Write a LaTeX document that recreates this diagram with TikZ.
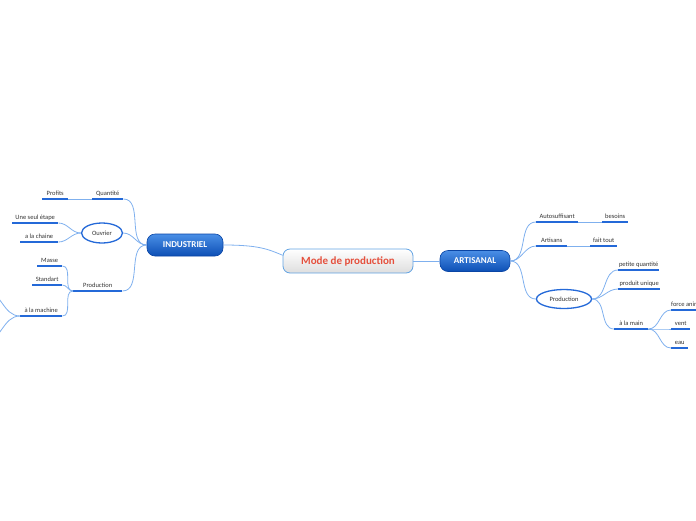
\documentclass[tikz,border=0pt]{standalone}
\usepackage{fontspec}
\setmainfont{Carlito}
\usetikzlibrary{shapes.geometric}
\definecolor{linkblue}{HTML}{7FB0EE}
\definecolor{lineblue}{HTML}{2469D8}
\definecolor{topblue}{HTML}{4A8FE6}
\definecolor{botblue}{HTML}{0D4FB5}
\definecolor{edgeblue}{HTML}{0A45A5}
\definecolor{rimblue}{HTML}{62A3E3}
\definecolor{titlered}{HTML}{E5503D}

\begin{document}
\begin{tikzpicture}[x=1pt,y=-1pt,
  link/.style={linkblue, line width=.8pt},
  uline/.style={lineblue, line width=1.6pt},
  leaf/.style={anchor=south west, inner xsep=0pt, inner ysep=2.2pt, text depth=1.5pt, text=black!80, font=\fontsize{6.5}{7}\selectfont},
  topic/.style={rounded corners=8pt, draw=edgeblue, line width=.6pt, top color=topblue, bottom color=botblue, text=white, font=\bfseries\fontsize{9}{10}\selectfont},
  bubble/.style={ellipse, draw=lineblue, fill=white, line width=1.3pt, inner sep=0pt, text=black!80, font=\fontsize{6.5}{7}\selectfont}]
\useasboundingbox (0,0) rectangle (696,520);

% centre
\node[rounded corners=7pt, draw=rimblue, line width=.8pt, top color=white, bottom color=black!13, text=titlered, font=\bfseries\fontsize{11}{12}\selectfont, minimum width=130pt, minimum height=24pt] (mode) at (348,261) {Mode de production};
\node[topic, minimum width=76pt, minimum height=22pt] (indus) at (185,245) {INDUSTRIEL};
\node[topic, minimum width=70pt, minimum height=21pt] (artis) at (475,261) {ARTISANAL};

% left side
\node[leaf, minimum width=31pt] (quant) at (92,199) {Quantité};
\node[leaf, minimum width=26pt] (profits) at (42,199) {Profits};
\node[bubble, minimum width=41pt, minimum height=20pt] (ouvrier) at (102,233) {Ouvrier};
\node[leaf, minimum width=46pt] (etape) at (12,223) {Une seul étape};
\node[leaf, minimum width=38pt] (chaine) at (20,242) {a la chaine};
\node[leaf, minimum width=49pt] (prodI) at (73,291) {Production};
\node[leaf, minimum width=25pt] (masse) at (37,266) {Masse};
\node[leaf, minimum width=30pt] (standart) at (32,285) {Standart};
\node[leaf, minimum width=42pt] (machine) at (20,316) {à la machine};
\coordinate (outA) at (-16,290);
\coordinate (outB) at (-16,342);

% right side
\node[leaf, minimum width=42pt] (autos) at (536,222) {Autosuffisant};
\node[leaf, minimum width=26pt] (besoins) at (602,222) {besoins};
\node[leaf, minimum width=31pt] (artisans) at (536,246) {Artisans};
\node[leaf, minimum width=27pt] (faittout) at (590,246) {fait tout};
\node[bubble, minimum width=55pt, minimum height=19pt] (prodA) at (564,299) {Production};
\node[leaf, minimum width=41pt] (petite) at (618,270) {petite quantité};
\node[leaf, minimum width=42pt] (unique) at (618,289) {produit unique};
\node[leaf, minimum width=34pt] (main) at (614,329) {à la main};
\node[leaf, minimum width=30pt] (force) at (671,310) {force animale};
\node[leaf, minimum width=19pt] (vent) at (671,329) {vent};
\node[leaf, minimum width=17pt] (eau) at (671,348) {eau};

\foreach \n in {quant,profits,etape,chaine,prodI,masse,standart,machine,autos,besoins,artisans,faittout,petite,unique,main,force,vent,eau}
  \draw[uline] (\n.south west) -- (\n.south east);

% links
\draw[link] (indus.east) .. controls (258,245) and (268,249) .. (mode.175);
\draw[link] (mode.east) -- (artis.west);
\foreach \c in {quant.south east,ouvrier.east,prodI.south east}
  \draw[link] (indus.west) to[out=180,in=0] (\c);
\draw[link] (quant.south west) -- (profits.south east);
\foreach \c in {etape.south east,chaine.south east}
  \draw[link] (ouvrier.west) to[out=180,in=0] (\c);
\foreach \c in {masse.south east,standart.south east,machine.south east}
  \draw[link] (prodI.south west) to[out=180,in=0] (\c);
\foreach \c in {outA,outB}
  \draw[link] (machine.south west) to[out=180,in=0] (\c);
\foreach \c in {autos.south west,artisans.south west,prodA.west}
  \draw[link] (artis.east) to[out=0,in=180] (\c);
\draw[link] (autos.south east) -- (besoins.south west);
\draw[link] (artisans.south east) -- (faittout.south west);
\foreach \c in {petite.south west,unique.south west,main.south west}
  \draw[link] (prodA.east) to[out=0,in=180] (\c);
\foreach \c in {force.south west,vent.south west,eau.south west}
  \draw[link] (main.south east) to[out=0,in=180] (\c);
\end{tikzpicture}
\end{document}
